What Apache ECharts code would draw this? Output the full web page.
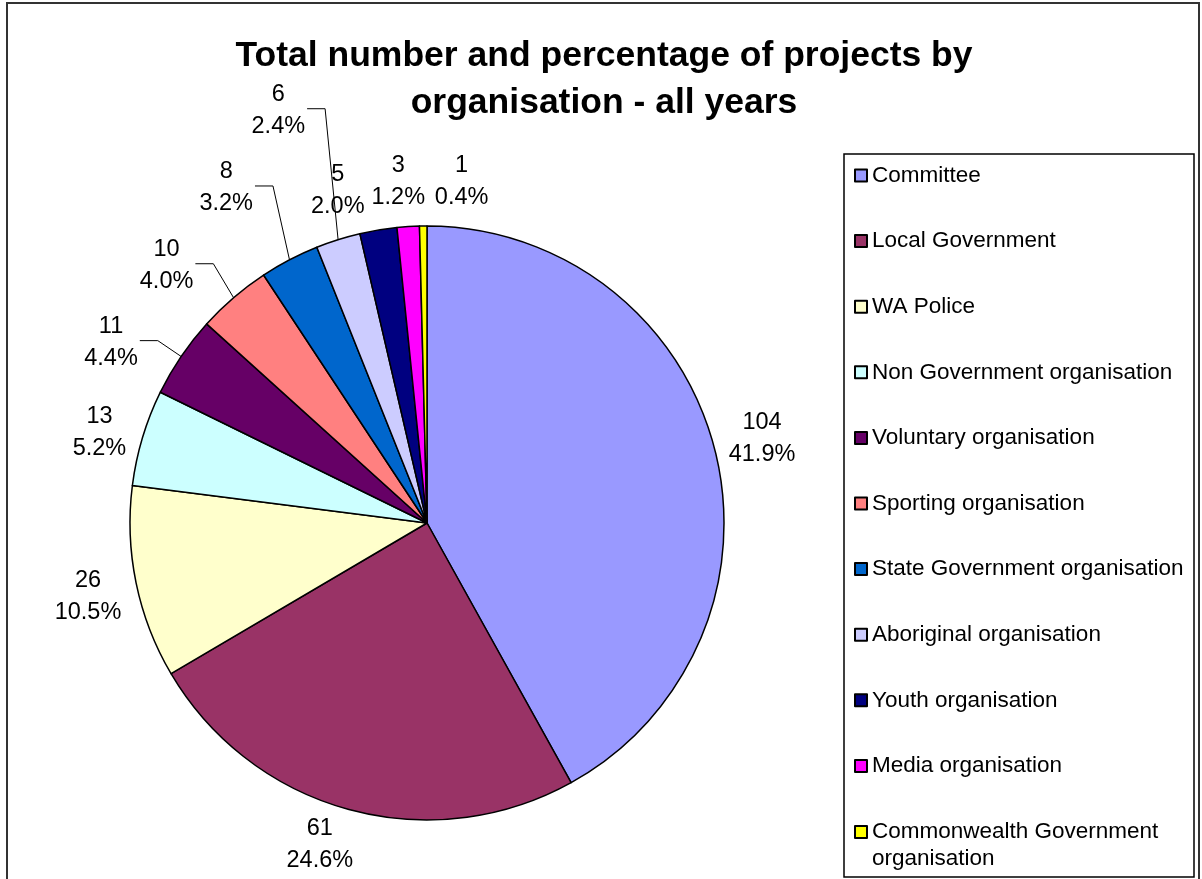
<!DOCTYPE html>
<html>
<head>
<meta charset="utf-8">
<title>Projects by organisation</title>
<script src="https://cdn.jsdelivr.net/npm/echarts@6/dist/echarts.min.js"></script>
<style>
  html, body { margin: 0; padding: 0; background: #fff; }
  #chart { width: 1202px; height: 879px; }
</style>
</head>
<body>
<div id="chart"></div>
<script>
const organisations = [
  'Committee',
  'Local Government',
  'WA Police',
  'Non Government organisation',
  'Voluntary organisation',
  'Sporting organisation',
  'State Government organisation',
  'Aboriginal organisation',
  'Youth organisation',
  'Media organisation',
  'Commonwealth Government organisation',
];
const projectCounts = [104, 61, 26, 13, 11, 10, 8, 6, 5, 3, 1];
const sliceColors = [
  '#9999ff', '#993366', '#ffffcc', '#ccffff', '#660066', '#ff8080',
  '#0066cc', '#ccccff', '#000080', '#ff00ff', '#ffff00',
];

const FONT = '"Liberation Sans", Arial, sans-serif';
const CX = 427, CY = 523, R = 297;
const LABEL_DIST = 343;
// labels were dragged by hand in the original, these are the nudges
const labelNudge = [
  [3, 1], [-17, -9], [-3, 4], [1, 8], [-32, 12], [-37, 3],
  [-42, -31], [-46, -85], [-33, 6], [-7, 1], [39, 1],
];
const withLeader = [4, 5, 6, 7];

const total = projectCounts.reduce((a, b) => a + b, 0);

// slice bisector, radians clockwise from 12 o'clock
function midAngle(i) {
  let before = 0;
  for (let k = 0; k < i; k++) before += projectCounts[k];
  return (before + projectCounts[i] / 2) / total * 2 * Math.PI;
}

const legendText = { fontSize: 22.5, lineHeight: 27, color: '#000', fontFamily: FONT };
const legendCommon = {
  orient: 'vertical',
  left: 854,
  padding: 0,
  itemWidth: 12,
  itemHeight: 12,
  icon: 'rect',
  selectedMode: false,
};
const lastName = organisations[organisations.length - 1];

const chart = echarts.init(document.getElementById('chart'));

chart.setOption({
  animation: false,
  title: {
    text: 'Total number and percentage of projects by\norganisation - all years',
    left: 599,
    top: 28,
    textAlign: 'center',
    textStyle: { fontSize: 35.5, fontWeight: 'bold', lineHeight: 47, color: '#000', fontFamily: FONT },
  },
  legend: [
    Object.assign({}, legendCommon, {
      top: 162,
      itemGap: 38.6,
      textStyle: legendText,
      data: organisations.slice(0, -1),
    }),
    // two-line entry: a blank line on top keeps the first line level with the swatch
    Object.assign({}, legendCommon, {
      top: 791.5,
      formatter: name => '\n' + name,
      textStyle: Object.assign({}, legendText, { width: 320, overflow: 'break' }),
      data: [lastName],
    }),
  ],
  graphic: [
    { type: 'rect', silent: true, shape: { x: 7, y: 3, width: 1192, height: 900 },
      style: { fill: null, stroke: '#333', lineWidth: 2 } },
    { type: 'rect', silent: true, shape: { x: 844, y: 154, width: 350, height: 723 },
      style: { fill: null, stroke: '#000', lineWidth: 1.5 } },
  ],
  series: [{
    type: 'pie',
    center: [CX, CY],
    radius: R,
    startAngle: 90,
    clockwise: true,
    avoidLabelOverlap: false,
    emphasis: { disabled: true },
    itemStyle: { borderColor: '#000', borderWidth: 1.5 },
    label: {
      show: true,
      position: 'outside',
      formatter: p => p.value + '\n' + (p.value / total * 100).toFixed(1) + '%',
      fontSize: 23.5,
      lineHeight: 32,
      color: '#000',
      fontFamily: FONT,
    },
    labelLine: { show: false, smooth: false, lineStyle: { color: '#000', width: 1 } },
    labelLayout: function (params) {
      const i = params.dataIndex;
      const a = midAngle(i);
      const x = CX + LABEL_DIST * Math.sin(a) + labelNudge[i][0];
      const y = CY - LABEL_DIST * Math.cos(a) + labelNudge[i][1];
      const out = { x, y, align: 'center', verticalAlign: 'middle' };
      if (withLeader.includes(i)) {
        const right = x + params.labelRect.width / 2;
        out.labelLinePoints = [
          [CX + R * Math.sin(a), CY - R * Math.cos(a)],
          [right + 20, y - 2],
          [right + 2, y - 2],
        ];
      }
      return out;
    },
    data: organisations.map((name, i) => ({
      name,
      value: projectCounts[i],
      itemStyle: { color: sliceColors[i] },
      labelLine: { show: withLeader.includes(i) },
    })),
  }],
});
</script>
</body>
</html>
